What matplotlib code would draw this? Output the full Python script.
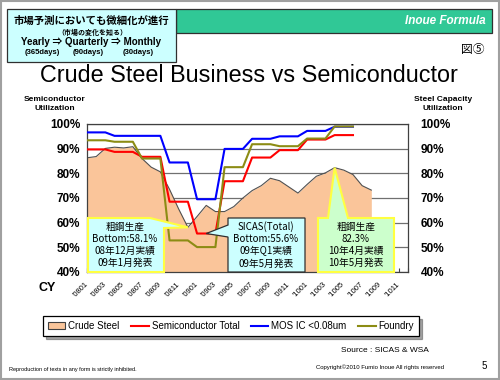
import matplotlib
matplotlib.use("Agg")
import matplotlib.pyplot as plt
from matplotlib.patches import Rectangle, Polygon
from matplotlib.lines import Line2D
import numpy as np

plt.rcParams['font.family'] = ['Liberation Sans', 'Noto Sans CJK JP', 'DejaVu Sans']

# ── Data ──────────────────────────────────────────────────────────────────────

months = ["'%02d%02d" % (y, m) for y in (8, 9, 10) for m in range(1, 13)]

# monthly crude steel capacity utilization (%), Jan 2008 .. Aug 2010
crude_steel = [86.3, 86.8, 90.1, 90.6, 90.3, 90.8, 86.0, 82.5, 80.6, 73.5, 65.5, 58.1,
               62.5, 67.0, 64.5, 64.5, 66.5, 70.0, 73.0, 75.0, 78.0, 77.0, 74.5, 72.0,
               75.5, 78.8, 80.2, 82.3, 81.3, 79.5, 75.0, 73.2]

# quarterly SICAS utilization (%), 08Q1 .. 10Q2
quarters = ["08Q1", "08Q2", "08Q3", "08Q4", "09Q1", "09Q2", "09Q3", "09Q4", "10Q1", "10Q2"]
semi_total = [89.7, 88.7, 86.7, 68.5, 55.6, 76.8, 86.4, 89.4, 93.7, 95.5]
mos_ic = [96.6, 95.2, 95.2, 84.4, 69.5, 89.9, 94.0, 95.0, 97.2, 98.9]
foundry = [93.4, 92.8, 86.0, 52.8, 50.1, 82.5, 91.8, 91.0, 94.1, 99.0]

series_names = ["Crude Steel", "Semiconductor Total", "MOS IC <0.08um", "Foundry"]

# ── Style ─────────────────────────────────────────────────────────────────────

W, H = 500, 380
STEEL = "#FAC59A"
RED, BLUE, OLIVE = "#FF0000", "#0000FF", "#8C8C14"


def px(x, y):
    """pixel position (from top-left) -> figure fraction"""
    return x / W, 1 - y / H


fig = plt.figure(figsize=(W / 100, H / 100), dpi=100)
fig.patch.set_facecolor("white")

x0, y0 = px(87, 272)
x1, y1 = px(408, 124)
ax = fig.add_axes([x0, y0, x1 - x0, y1 - y0])

xm = np.arange(len(crude_steel))
ax.fill_between(xm, 40, crude_steel, color=STEEL, zorder=2, lw=0)
ax.plot(xm, crude_steel, color="#505050", lw=0.8, zorder=2.5)

xq = np.arange(len(quarters) * 3)
for vals, c in ((semi_total, RED), (mos_ic, BLUE), (foundry, OLIVE)):
    ax.plot(xq, np.repeat(vals, 3), color=c, lw=1.5, zorder=3)

ax.set_xlim(0, 35)
ax.set_ylim(40, 100)
ax.set_yticks(range(40, 101, 10))
ax.set_yticklabels(["%d%%" % v for v in range(40, 101, 10)],
                   fontsize=8.5, fontweight="bold")
ax.yaxis.grid(True, color="#707070", lw=0.9)
ax.set_axisbelow(True)
ax.tick_params(axis="y", length=0, pad=5)

ax.set_xticks(range(len(months)))
ax.set_xticklabels([m if i % 2 == 0 else "" for i, m in enumerate(months)],
                   rotation=45, ha="right", va="center", rotation_mode="anchor",
                   fontsize=5.5)
ax.tick_params(axis="x", direction="in", length=3, pad=8, color="#404040")
for s in ax.spines.values():
    s.set_color("#404040")
    s.set_linewidth(0.9)

ax2 = ax.twinx()
ax2.set_ylim(40, 100)
ax2.set_yticks(range(40, 101, 10))
ax2.set_yticklabels(["%d%%" % v for v in range(40, 101, 10)],
                    fontsize=8.5, fontweight="bold")
ax2.tick_params(axis="y", length=0, pad=9)
for s in ax2.spines.values():
    s.set_visible(False)

# ── Axis captions ─────────────────────────────────────────────────────────────

fig.text(*px(55, 104), "Semiconductor\nUtilization", ha="center", va="center",
         fontsize=6, fontweight="bold", linespacing=1.3)
fig.text(*px(443, 104), "Steel Capacity\nUtilization", ha="center", va="center",
         fontsize=6, fontweight="bold", linespacing=1.3)
fig.text(*px(47, 288), "CY", ha="center", va="center", fontsize=9, fontweight="bold")

fig.text(*px(249, 75), "Crude Steel Business vs Semiconductor", ha="center",
         va="center", fontsize=16.8)

# ── Header boxes ──────────────────────────────────────────────────────────────

fig.add_artist(Rectangle(px(176, 33), 316 / W, 24 / H, transform=fig.transFigure,
                         facecolor="#30C896", edgecolor="#303030", lw=0.9))
fig.text(*px(486, 21), "Inoue Formula", ha="right", va="center", fontsize=8.5,
         fontweight="bold", style="italic", color="white")

fig.add_artist(Rectangle(px(7, 62), 169 / W, 53 / H, transform=fig.transFigure,
                         facecolor="#CCFFFF", edgecolor="#303030", lw=0.9, zorder=3))
fig.text(*px(91, 21), "市場予測においても微細化が進行", ha="center", va="center",
         fontsize=7.5, fontweight="bold", family=["Noto Sans CJK JP"], zorder=4)
fig.text(*px(92, 32), "（市場の変化を知る）", ha="center", va="center",
         fontsize=5, fontweight="bold", family=["Noto Sans CJK JP"], zorder=4)
fig.text(*px(91, 42), "Yearly ⇒ Quarterly ⇒ Monthly", ha="center", va="center",
         fontsize=7, fontweight="bold", zorder=4)
for xx, s in ((42, "(365days)"), (88, "(90days)"), (138, "(30days)")):
    fig.text(*px(xx, 53), s, ha="center", va="center", fontsize=5.5,
             fontweight="bold", zorder=4)

fig.text(*px(485, 49), "図⑤", ha="right", va="center", fontsize=8.5,
         family=["Noto Sans CJK JP"])

# ── Callouts ──────────────────────────────────────────────────────────────────


def tip_of(x, y):
    return fig.transFigure.inverted().transform(ax.transData.transform((x, y)))


def callout(verts, face, edge, lw, text, cx):
    fig.add_artist(Polygon(verts, closed=True, transform=fig.transFigure,
                           facecolor=face, edgecolor=edge, lw=lw, zorder=5))
    fig.text(*px(cx, 245), text, ha="center", va="center", fontsize=7,
             linespacing=1.25, family=["Noto Sans CJK JP", "DejaVu Sans"], zorder=6)


i_min = int(np.argmin(crude_steel))
i_max = 24 + int(np.argmax(crude_steel[24:]))     # 2010 peak
q_min = int(np.argmin(semi_total))

callout([px(88, 272), px(88, 218), px(150, 218), tip_of(i_min, crude_steel[i_min]),
         px(164, 228), px(164, 272)],
        "#CCFFFF", "#FFFF40", 1.5,
        "粗鋼生産\nBottom:%.1f%%\n08年12月実績\n09年1月発表" % crude_steel[i_min], 125)

callout([px(228, 272), px(228, 237), tip_of(q_min * 3 + 1, semi_total[q_min]),
         px(228, 225), px(228, 218), px(305, 218), px(305, 272)],
        "#CCFFFF", "#303030", 0.9,
        "SICAS(Total)\nBottom:%.1f%%\n09年Q1実績\n09年5月発表" % semi_total[q_min], 266)

callout([px(318, 272), px(318, 218), px(328, 218), tip_of(i_max, crude_steel[i_max]),
         px(348, 218), px(394, 218), px(394, 272)],
        "#CCFFCC", "#FFFF40", 1.5,
        "粗鋼生産\n%.1f%%\n10年4月実績\n10年5月発表" % crude_steel[i_max], 356)

# ── Legend ────────────────────────────────────────────────────────────────────

handles = [Rectangle((0, 0), 1, 1, facecolor=STEEL, edgecolor="#404040", lw=0.8),
           Line2D([], [], color=RED, lw=1.5),
           Line2D([], [], color=BLUE, lw=1.5),
           Line2D([], [], color=OLIVE, lw=1.5)]
leg = fig.legend(handles, series_names, loc="center", bbox_to_anchor=px(231, 326),
                 ncol=4, fontsize=7, frameon=True, fancybox=False, shadow=True,
                 edgecolor="black", handlelength=1.8, columnspacing=1.2,
                 handletextpad=0.3, borderpad=0.5)
leg.get_frame().set_linewidth(0.9)

# ── Footer ────────────────────────────────────────────────────────────────────

fig.text(*px(385, 351), "Source : SICAS & WSA", ha="center", va="center", fontsize=6)
fig.text(*px(380, 367), "Copyright©2010 Fumio Inoue All rights reserved", ha="center",
         va="center", fontsize=4.3)
fig.text(*px(9, 369), "Reproduction of texts in any form is strictly inhibited.",
         ha="left", va="center", fontsize=4)
fig.text(*px(484, 366), "5", ha="center", va="center", fontsize=7)

fig.add_artist(Rectangle((0.002, 0.003), 0.995, 0.994, transform=fig.transFigure,
                         facecolor="none", edgecolor="#A0A0A0", lw=1.5))

fig.savefig("out.png", dpi=100)
